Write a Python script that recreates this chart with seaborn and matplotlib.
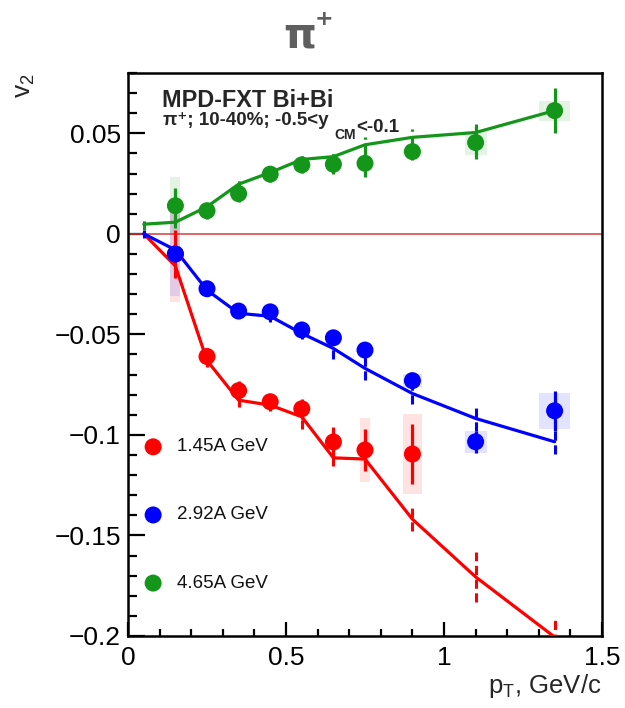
import numpy as np
import pandas as pd
import matplotlib
matplotlib.use("Agg")
import matplotlib.pyplot as plt
import seaborn as sns

# pT bins of the measured points
pt = [0.15, 0.25, 0.35, 0.45, 0.55, 0.65, 0.75, 0.9, 1.1, 1.35]
# half-widths of the systematic-uncertainty boxes
sys_halfwidth = [0.016, 0.016, 0.016, 0.016, 0.016, 0.016, 0.016, 0.03, 0.035, 0.05]

# 1.45A GeV (measured up to 0.9 GeV/c)
v2_145 = [-0.010, -0.061, -0.078, -0.0835, -0.087, -0.1035, -0.1075, -0.1095]
stat_145 = [0.012, 0.004, 0.005, 0.004, 0.005, 0.0075, 0.0105, 0.015]
sys_145 = [0.024, 0.002, 0.002, 0.002, 0.002, 0.002, 0.016, 0.02]

# 2.92A GeV
v2_292 = [-0.010, -0.0273, -0.0384, -0.0388, -0.0478, -0.0517, -0.0578, -0.073, -0.1034, -0.088]
stat_292 = [0.004, 0.003, 0.003, 0.004, 0.003, 0.003, 0.003, 0.002, 0.0054, 0.010]
sys_292 = [0.021, 0.001, 0.001, 0.001, 0.001, 0.001, 0.001, 0.0033, 0.0056, 0.009]

# 4.65A GeV
v2_465 = [0.014, 0.0115, 0.020, 0.0297, 0.0343, 0.0346, 0.0351, 0.0409, 0.0454, 0.0613]
stat_465 = [0.009, 0.004, 0.004, 0.004, 0.004, 0.005, 0.007, 0.004, 0.008, 0.011]
sys_465 = [0.0145, 0.001, 0.001, 0.001, 0.001, 0.001, 0.001, 0.002, 0.006, 0.005]

# model curves
pt_model = [0.05, 0.15, 0.25, 0.35, 0.45, 0.55, 0.65, 0.75, 0.9, 1.1, 1.35]
model_145 = [0.0, -0.016, -0.063, -0.0827, -0.0852, -0.091, -0.1114, -0.112, -0.1419, -0.1706, -0.2005]
model_err_145 = [0.001, 0.002, 0.003, 0.0035, 0.003, 0.006, 0.004, 0.004, 0.006, 0.0124, 0.01]
model_292 = [0.0, -0.008, -0.028, -0.0395, -0.041, -0.0495, -0.057, -0.0669, -0.0794, -0.0918, -0.1034]
model_err_292 = [0.002, 0.002, 0.003, 0.002, 0.003, 0.003, 0.005, 0.006, 0.005, 0.006, 0.006]
model_465 = [0.0048, 0.0058, 0.0135, 0.0247, 0.0305, 0.037, 0.0384, 0.0443, 0.048, 0.0504, 0.0613]
model_err_465 = [0.003, 0.003, 0.003, 0.003, 0.003, 0.003, 0.003, 0.004, 0.004, 0.004, 0.003]

energies = ["1.45A GeV", "2.92A GeV", "4.65A GeV"]
colors = ["#ff0000", "#0000ff", "#14961a"]

sns.set_style("ticks")
plt.rcParams["font.family"] = ["Liberation Sans", "DejaVu Sans"]
plt.rcParams["mathtext.default"] = "regular"

fig = plt.figure(figsize=(6.25, 7.08), dpi=100)
ax = fig.add_axes([0.2048, 0.1017, 0.7584, 0.7952])

series = [
    (v2_145, stat_145, sys_145, model_145, model_err_145),
    (v2_292, stat_292, sys_292, model_292, model_err_292),
    (v2_465, stat_465, sys_465, model_465, model_err_465),
]

# systematic boxes first, underneath everything
for (v2, stat, sys_, _, _), col in zip(series, colors):
    n = len(v2)
    x = np.array(pt[:n])
    w = 2 * np.array(sys_halfwidth[:n])
    v = np.array(v2)
    s = np.array(sys_)
    ax.bar(x, 2 * s, width=w, bottom=v - s, color=col, alpha=0.11,
           linewidth=0, zorder=1)

ax.axhline(0, color="#d83a3a", lw=1.1, zorder=2)

# model curves with their uncertainties
for (_, _, _, model, merr), col, lab in zip(series, colors, energies):
    dfm = pd.DataFrame({"pT": pt_model, "v2": model})
    sns.lineplot(data=dfm, x="pT", y="v2", color=col, lw=2.3, ax=ax,
                 zorder=3, legend=False)
    m = np.array(model)
    e = np.array(merr)
    ax.vlines(pt_model, m - e, m + e, colors=col, lw=2.2,
              linestyles=(0, (3, 1.5)), zorder=3)

# measured points with statistical errors
for (v2, stat, _, _, _), col, lab in zip(series, colors, energies):
    n = len(v2)
    ax.errorbar(pt[:n], v2, yerr=stat, fmt="none", ecolor=col, elinewidth=2.3,
                capsize=0, zorder=4)
    dfp = pd.DataFrame({"pT": pt[:n], "v2": v2})
    sns.scatterplot(data=dfp, x="pT", y="v2", color=col, s=150, marker="o",
                    edgecolor="none", ax=ax, zorder=5, legend=False)

ax.set_xlim(0, 1.5)
ax.set_ylim(-0.2, 0.08)
ax.set_xticks([0, 0.5, 1, 1.5])
ax.set_xticklabels(["0", "0.5", "1", "1.5"])
ax.set_yticks([-0.2, -0.15, -0.1, -0.05, 0, 0.05])
ax.set_yticklabels(["\u22120.2", "\u22120.15", "\u22120.1", "\u22120.05", "0", "0.05"])
ax.set_xticks(np.arange(0, 1.5001, 0.1), minor=True)
ax.set_yticks(np.arange(-0.2, 0.0801, 0.01), minor=True)
ax.tick_params(which="both", direction="in", top=False, right=False,
               labelsize=19, width=1.6, color="black", labelcolor="black")
ax.tick_params(axis="y", which="major", length=12, pad=5)
ax.tick_params(axis="y", which="minor", length=6.5)
ax.tick_params(axis="x", which="major", length=10, pad=7)
ax.tick_params(axis="x", which="minor", length=5)
for sp in ax.spines.values():
    sp.set_visible(True)
    sp.set_linewidth(1.8)
    sp.set_color("black")
ax.set_xlabel("")
ax.set_ylabel("")

# legend drawn as marker + label rows
leg_y = [0.336, 0.215, 0.094]
for yy, col, lab in zip(leg_y, colors, energies):
    ax.scatter([0.053], [yy], s=150, color=col, edgecolor="none",
               transform=ax.transAxes, zorder=6, clip_on=False)
    ax.text(0.103, yy, lab, transform=ax.transAxes, fontsize=13.5,
            va="center", ha="left", color="#111111")

# header text
ax.text(0.072, 0.940, "MPD-FXT Bi+Bi", transform=ax.transAxes, fontsize=16.8,
        fontweight="bold", va="baseline", ha="left")
t1 = ax.text(0.0745, 0.9077, "\u03c0\u207a; 10-40%; -0.5<y", transform=ax.transAxes,
             fontsize=13.5, fontweight="bold", va="baseline", ha="left")
t2 = ax.annotate("CM", xy=(1, 0), xycoords=t1, xytext=(4, -7),
                 textcoords="offset points", fontsize=10, fontweight="bold",
                 va="baseline", ha="left")
ax.annotate("<-0.1", xy=(1, 0), xycoords=t2, xytext=(0.5, 7),
            textcoords="offset points", fontsize=13.5, fontweight="bold",
            va="baseline", ha="left")

# axis titles
fig.text(0.962, 0.021, "p$_{T}$, GeV/c", fontsize=18.5, ha="right", va="baseline")
fig.text(0.040, 0.897, "v$_{2}$", fontsize=19, rotation=90, ha="center", va="top")

# plot title
fig.text(300 / 625, 1 - 47 / 708, "\u03c0", fontsize=30, fontweight="bold",
         color="#5f5f5f", ha="center", va="baseline", family="DejaVu Sans")
fig.text(324 / 625, 1 - 25 / 708, "+", fontsize=16, fontweight="bold",
         color="#5f5f5f", ha="center", va="baseline", family="DejaVu Sans")

fig.savefig("out.png", dpi=100)
